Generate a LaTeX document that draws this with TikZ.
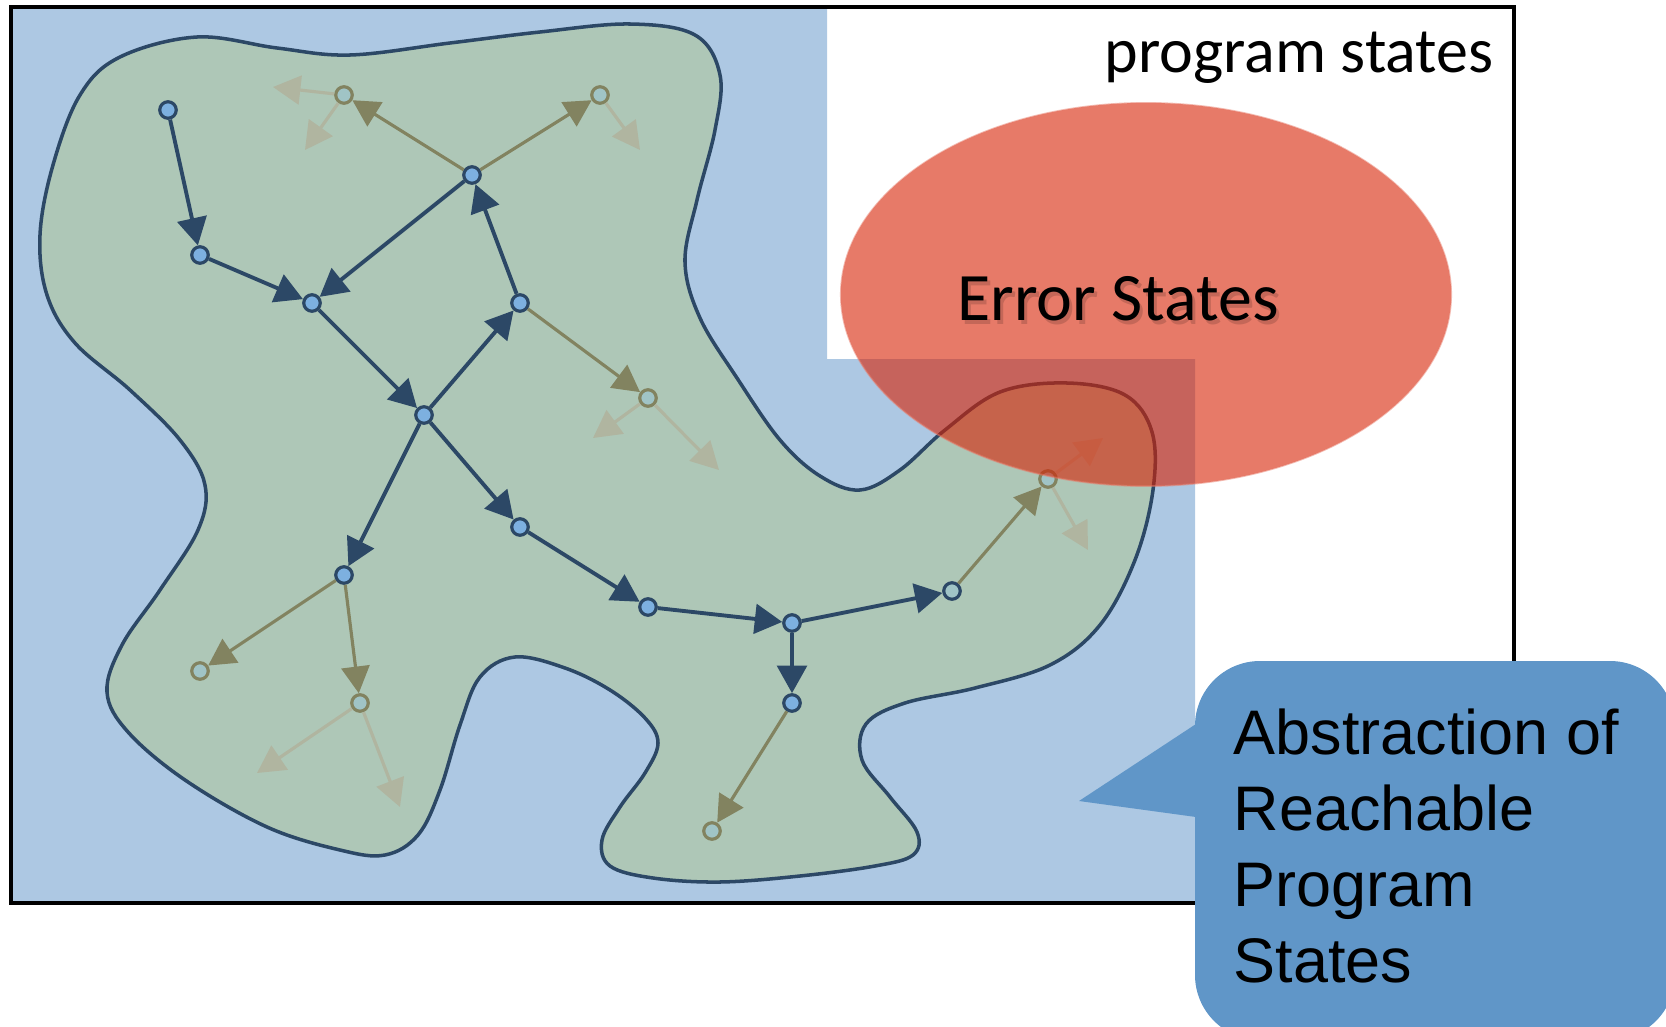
\documentclass[tikz,border=0pt]{standalone}
\usepackage{fontspec}
\usepackage{tikz}
\usetikzlibrary{arrows.meta}
\newfontfamily\calibri{Carlito}
\newfontfamily\arial{Liberation Sans}
\definecolor{cBack}{RGB}{173,200,227}
\definecolor{cBlob}{RGB}{174,199,183}
\definecolor{cNavy}{RGB}{44,72,102}
\definecolor{cDot}{RGB}{125,176,224}
\definecolor{cOlive}{RGB}{130,131,96}
\definecolor{cPale}{RGB}{160,196,198}
\definecolor{cFade}{RGB}{176,181,160}
\definecolor{cErr}{RGB}{215,33,3}
\definecolor{cCall}{RGB}{96,150,200}

\begin{document}
\begin{tikzpicture}[x=0.01cm,y=-0.01cm,
  dot/.style={circle,draw=cNavy,fill=cDot,line width=0.9pt,inner sep=0pt,minimum size=0.165cm},
  rim/.style={dot,fill=cPale},
  hollow/.style={dot,draw=cOlive,fill=cPale},
  reach/.style={cNavy,line width=1.1pt,-{Triangle[length=7.8pt,width=8.4pt]}},
  escape/.style={cOlive,line width=0.9pt,-{Triangle[length=7.6pt,width=8pt]}},
  faded/.style={cFade,line width=0.9pt,-{Triangle[length=7.8pt,width=8.2pt]}}]
\useasboundingbox (0,0) rectangle (1666,1027);
\fill[cBack] (10,6) -- (827,6) -- (827,359) -- (1195,359) -- (1195,903) -- (10,903) -- cycle;
\draw[line width=0.9pt] (11,7) rectangle (1514,903);
\filldraw[fill=cBlob,draw=cNavy,line width=1pt] plot[smooth cycle,tension=0.6] coordinates {
  (197,37) (277,48) (350,55) (450,43) (540,32) (630,24) (695,35) (720,75) (715,130)
  (697,200) (685,262) (700,318) (737,378) (780,440) (820,476) (860,490) (900,470)
  (945,430) (1000,392) (1067,383) (1125,395) (1152,432) (1153,490) (1135,560)
  (1100,625) (1050,665) (975,688) (905,703) (866,724) (862,760) (890,797) (917,832)
  (913,855) (875,866) (800,876) (720,882) (653,878) (610,866) (602,840) (620,807)
  (645,773) (658,743) (645,718) (610,690) (565,668) (515,657) (480,677) (460,725)
  (440,790) (418,835) (385,855) (340,850) (267,827) (185,780) (128,732) (107,692)
  (122,645) (160,590) (198,530) (205,485) (180,440) (130,390) (75,343) (47,295)
  (40,235) (53,165) (80,95) (120,57)};
\node[dot] (n1) at (168,110) {};
\node[dot] (n2) at (200,255) {};
\node[dot] (n3) at (312,303) {};
\node[dot] (n4) at (472,175) {};
\node[dot] (n5) at (520,303) {};
\node[dot] (n6) at (424,415) {};
\node[dot] (n7) at (520,527) {};
\node[dot] (n8) at (344,575) {};
\node[dot] (n9) at (648,607) {};
\node[dot] (n10) at (792,623) {};
\node[rim] (n11) at (952,591) {};
\node[dot] (n12) at (792,703) {};
\node[hollow] (o1) at (344,95) {};
\node[hollow] (o2) at (600,95) {};
\node[hollow] (o3) at (648,398) {};
\node[hollow] (o4) at (200,671) {};
\node[hollow] (o5) at (360,703) {};
\node[hollow] (o6) at (712,831) {};
\node[hollow] (o7) at (1048,479) {};
\coordinate (f1) at (273,87);
\coordinate (f2) at (305,150);
\coordinate (f3) at (640,150);
\coordinate (f4) at (593,438);
\coordinate (f5) at (719,470);
\coordinate (f6) at (257,773);
\coordinate (f7) at (400,807);
\coordinate (f8) at (1088,550);
\coordinate (f9) at (1103,438);
\draw[reach] (n1) -- (n2);
\draw[reach] (n2) -- (n3);
\draw[reach] (n4) -- (n3);
\draw[reach] (n5) -- (n4);
\draw[reach] (n3) -- (n6);
\draw[reach] (n6) -- (n5);
\draw[reach] (n6) -- (n7);
\draw[reach] (n6) -- (n8);
\draw[reach] (n7) -- (n9);
\draw[reach] (n9) -- (n10);
\draw[reach] (n10) -- (n11);
\draw[reach] (n10) -- (n12);
\draw[escape] (n4) -- (o1);
\draw[escape] (n4) -- (o2);
\draw[escape] (n5) -- (o3);
\draw[escape] (n8) -- (o4);
\draw[escape] (n8) -- (o5);
\draw[escape] (n12) -- (o6);
\draw[escape] (n11) -- (o7);
\draw[faded] (o1) -- (f1);
\draw[faded] (o1) -- (f2);
\draw[faded] (o2) -- (f3);
\draw[faded] (o3) -- (f4);
\draw[faded] (o3) -- (f5);
\draw[faded] (o5) -- (f6);
\draw[faded] (o5) -- (f7);
\draw[faded] (o7) -- (f8);
\draw[faded] (o7) -- (f9);
\filldraw[fill=cErr,fill opacity=0.6,draw=cErr!60!white,draw opacity=0.5,line width=0.5pt]
  (1146,294.5) ellipse [x radius=3.05cm,y radius=1.915cm];
\node[font=\calibri\fontsize{19.3}{23}\selectfont,anchor=base,inner sep=0pt,opacity=0.15] (errshadow) at (1121,324) {Error States};
\node[font=\calibri\fontsize{19.3}{23}\selectfont,anchor=base,inner sep=0pt] (err) at (1118,320) {Error States};
\node[font=\calibri\fontsize{18.2}{21}\selectfont,anchor=base east,inner sep=0pt] (ps) at (1494,72) {program states};
\fill[cCall] (1196,724) -- (1079,801) -- (1196,817) -- cycle;
\fill[cCall,rounded corners=0.65cm] (1195,661) rectangle (1675,1040);
\node[font=\arial\fontsize{17.9}{21.6}\selectfont,anchor=north west,inner sep=0pt,align=left] (abs) at (1233,708)
  {Abstraction of\\Reachable\\Program\\States};
\end{tikzpicture}
\end{document}
